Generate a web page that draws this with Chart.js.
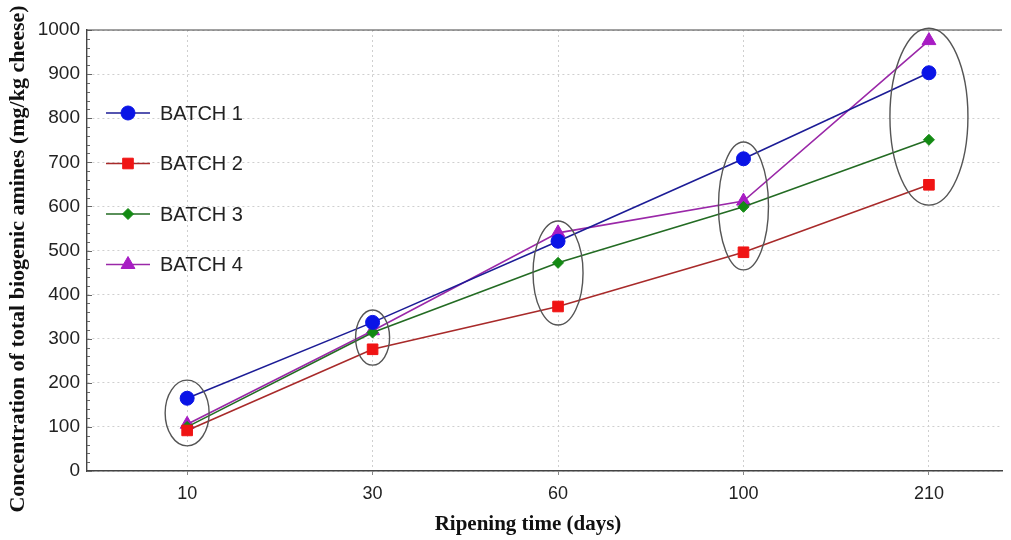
<!DOCTYPE html>
<html>
<head>
<meta charset="utf-8">
<script src="https://cdn.jsdelivr.net/npm/chart.js@4/dist/chart.umd.min.js"></script>
<style>
  html, body { margin: 0; padding: 0; background: #fff; }
  #wrap { width: 1011px; height: 540px; position: relative; }
</style>
</head>
<body>
<div id="wrap"><canvas id="chart"></canvas></div>
<script>
// ripening time categories (days)
const days = ["10", "30", "60", "100", "210"];
const batch1 = [165, 337, 521, 708, 903];
const batch2 = [92, 276, 373, 496, 649];
const batch3 = [100, 314, 472, 599, 751];
const batch4 = [106, 318, 540, 612, 976];
const yTicks = [0, 100, 200, 300, 400, 500, 600, 700, 800, 900, 1000];
const xTitle = "Ripening time (days)";
const yTitle = "Concentration of total biogenic amines (mg/kg cheese)";

// ellipses around each group: [category index, low value, high value, half width in px]
const groups = [
  [0, 57, 206, 22],
  [1, 240, 365, 17],
  [2, 331, 567, 25],
  [3, 456, 746, 25],
  [4, 603, 1004, 39],
];

const series = [
  { label: "BATCH 1", data: batch1, line: "#1c1c96", fill: "#0a14e6", style: "circle", r: 7 },
  { label: "BATCH 2", data: batch2, line: "#a82a2a", fill: "#f01414", style: "rect", r: 7.5 },
  { label: "BATCH 3", data: batch3, line: "#236b23", fill: "#138a13", style: "rectRot", r: 5.5 },
  { label: "BATCH 4", data: batch4, line: "#9a28a8", fill: "#a81cc4", style: "triangle", r: 8 },
];

const toPoints = (arr) => arr.map((v, i) => ({ x: i, y: v }));
const serif = "'Liberation Serif', 'Times New Roman', serif";
const sans = "'Liberation Sans', Arial, sans-serif";

const extras = {
  id: "extras",
  afterDatasetsDraw(chart) {
    const { ctx, scales: { x, y }, chartArea } = chart;
    ctx.save();

    // minor ticks on the y axis
    ctx.strokeStyle = "#666";
    ctx.lineWidth = 1;
    for (let v = 0; v <= 1000; v += 20) {
      const py = Math.round(y.getPixelForValue(v)) + 0.5;
      const len = v % 100 === 0 ? 5 : 3;
      ctx.beginPath();
      ctx.moveTo(chartArea.left, py);
      ctx.lineTo(chartArea.left + len, py);
      ctx.stroke();
    }

    // ellipses
    ctx.strokeStyle = "#555";
    ctx.lineWidth = 1.4;
    groups.forEach(([i, lo, hi, hw]) => {
      const cx = x.getPixelForValue(i);
      const top = y.getPixelForValue(hi);
      const bot = y.getPixelForValue(lo);
      ctx.beginPath();
      ctx.ellipse(cx, (top + bot) / 2, hw, (bot - top) / 2, 0, 0, Math.PI * 2);
      ctx.stroke();
    });

    // legend inside the plot
    ctx.font = "20px " + sans;
    ctx.textBaseline = "middle";
    series.forEach((s, k) => {
      const ly = 113 + k * 50.5;
      ctx.strokeStyle = s.line;
      ctx.lineWidth = 1.6;
      ctx.beginPath();
      ctx.moveTo(106, ly);
      ctx.lineTo(150, ly);
      ctx.stroke();
      ctx.fillStyle = s.fill;
      ctx.strokeStyle = s.fill;
      ctx.lineWidth = 1;
      Chart.helpers.drawPoint(ctx, { pointStyle: s.style, radius: s.r, rotation: 0, borderWidth: 1 }, 128, ly);
      ctx.fillStyle = "#222";
      ctx.fillText(s.label, 160, ly + 1);
    });

    // top border
    ctx.strokeStyle = "#444";
    ctx.lineWidth = 1.2;
    ctx.beginPath();
    ctx.moveTo(chartArea.left, chartArea.top);
    ctx.lineTo(chartArea.right, chartArea.top);
    ctx.stroke();

    // axis titles
    ctx.fillStyle = "#111";
    ctx.font = "bold 21px " + serif;
    ctx.textAlign = "center";
    ctx.textBaseline = "middle";
    ctx.fillText(xTitle, 528, 525);
    ctx.font = "bold 22px " + serif;
    ctx.translate(18, 259);
    ctx.rotate(-Math.PI / 2);
    ctx.fillText(yTitle, 0, 0);
    ctx.restore();
  },
};

new Chart(document.getElementById("chart"), {
  type: "line",
  data: {
    datasets: series.map((s) => ({
      label: s.label,
      data: toPoints(s.data),
      borderColor: s.line,
      backgroundColor: s.fill,
      pointBorderColor: s.fill,
      pointBackgroundColor: s.fill,
      pointStyle: s.style,
      pointRadius: s.r,
      pointBorderWidth: 1,
      borderWidth: 1.6,
      tension: 0,
    })),
  },
  options: {
    responsive: true,
    maintainAspectRatio: false,
    animation: false,
    layout: { padding: { top: 30, right: 0, left: 0, bottom: 0 } },
    plugins: { legend: { display: false }, tooltip: { enabled: false } },
    scales: {
      x: {
        type: "linear",
        min: -0.540,
        max: 4.394,
        afterBuildTicks: (ax) => { ax.ticks = days.map((d, i) => ({ value: i })); },
        afterFit: (ax) => { ax.height = 69; },
        ticks: {
          callback: (v) => days[v],
          color: "#222",
          font: { family: sans, size: 18 },
          padding: 8,
          maxRotation: 0,
        },
        grid: { color: "#cfcfcf", tickLength: 4, drawTicks: true, tickColor: "#888" },
        border: { color: "#444", width: 1.4, dash: [2, 3] },
      },
      y: {
        min: 0,
        max: 1000,
        afterBuildTicks: (ax) => { ax.ticks = yTicks.map((v) => ({ value: v })); },
        afterFit: (ax) => { ax.width = 87; },
        ticks: {
          callback: (v) => String(v),
          color: "#222",
          font: { family: sans, size: 19 },
          padding: 7,
        },
        grid: { color: "#cfcfcf", tickLength: 0 },
        border: { color: "#444", width: 1.4, dash: [2, 3] },
      },
    },
  },
  plugins: [extras],
});
</script>
</body>
</html>
